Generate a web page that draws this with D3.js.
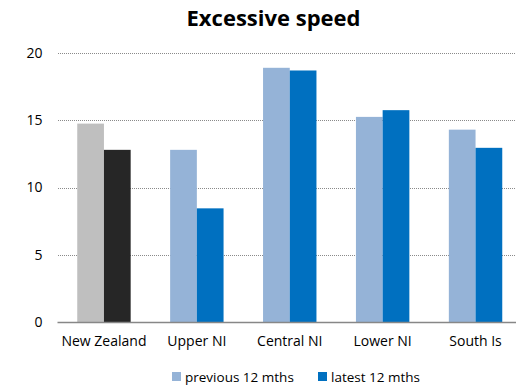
<!DOCTYPE html>
<html>
<head>
<meta charset="utf-8">
<script src="https://cdn.jsdelivr.net/npm/d3@7"></script>
<style>
  html, body { margin: 0; padding: 0; background: #fff; }
  svg { display: block; font-family: "Open Sans", "Noto Sans", sans-serif; }
</style>
</head>
<body>
<svg id="chart" width="516" height="388"></svg>
<script>
// Excessive speed offences by region
const categories = ["New Zealand", "Upper NI", "Central NI", "Lower NI", "South Is"];
const previous12 = [14.75, 12.8, 18.9, 15.25, 14.3];
const latest12 = [12.8, 8.45, 18.7, 15.75, 12.95];
const seriesNames = ["previous 12 mths", "latest 12 mths"];
const yTicks = [0, 5, 10, 15, 20];

const svg = d3.select("#chart");
const W = 516, H = 388;
const plot = { left: 57.5, right: 522, top: 53, bottom: 322 };

// colours: national total in greys, regions in blues
const prevColor = (i) => i === 0 ? "#bfbfbf" : "#95b3d7";
const lateColor = (i) => i === 0 ? "#262626" : "#0070c0";

const x = d3.scaleBand().domain(categories).range([plot.left, plot.right]).paddingInner(0.425).paddingOuter(0.2125);
const sub = d3.scaleBand().domain([0, 1]).range([0, x.bandwidth()]);
const y = d3.scaleLinear().domain([0, 20]).range([plot.bottom, plot.top]);

// title
svg.append("text")
  .attr("x", 273.5).attr("y", 26)
  .attr("text-anchor", "middle")
  .attr("font-size", 22).attr("font-weight", "bold").attr("fill", "#000")
  .text("Excessive speed");

// dotted gridlines + y labels
const yAxis = d3.axisLeft(y).tickValues(yTicks).tickSize(-(W - plot.left)).tickPadding(15);
const gy = svg.append("g").attr("transform", `translate(${plot.left},0)`).call(yAxis);
gy.select(".domain").remove();
gy.selectAll(".tick line")
  .attr("stroke", "#8a8a8a").attr("stroke-width", 1).attr("stroke-dasharray", "1,1")
  .attr("shape-rendering", "crispEdges");
gy.selectAll(".tick text").attr("font-size", 14).attr("fill", "#000")
  .attr("font-family", "'Open Sans', sans-serif");

// bars
const groups = svg.append("g").selectAll("g").data(categories).join("g")
  .attr("transform", d => `translate(${x(d)},0)`);

groups.append("rect")
  .attr("x", sub(0)).attr("width", sub.bandwidth())
  .attr("y", (d, i) => y(previous12[i]))
  .attr("height", (d, i) => y(0) - y(previous12[i]))
  .attr("fill", (d, i) => prevColor(i));

groups.append("rect")
  .attr("x", sub(1)).attr("width", sub.bandwidth())
  .attr("y", (d, i) => y(latest12[i]))
  .attr("height", (d, i) => y(0) - y(latest12[i]))
  .attr("fill", (d, i) => lateColor(i));

// category axis
const xAxis = d3.axisBottom(x).tickSize(0).tickPadding(14);
const gx = svg.append("g").attr("transform", `translate(0,${plot.bottom})`).call(xAxis);
gx.select(".domain").remove();
gx.selectAll(".tick text").attr("font-size", 14).attr("fill", "#000")
  .attr("font-family", "'Open Sans', sans-serif");
svg.append("line")
  .attr("x1", plot.left).attr("x2", W)
  .attr("y1", plot.bottom + 0.5).attr("y2", plot.bottom + 0.5)
  .attr("stroke", "#878787").attr("stroke-width", 1.6);

// legend
const legend = [
  { name: seriesNames[0], color: "#95b3d7", x: 172 },
  { name: seriesNames[1], color: "#0070c0", x: 318 }
];
const lg = svg.append("g").selectAll("g").data(legend).join("g")
  .attr("transform", d => `translate(${d.x},372)`);
lg.append("rect").attr("width", 9).attr("height", 9).attr("fill", d => d.color);
lg.append("text").attr("x", 13).attr("y", 9.5)
  .attr("font-size", 13.5).attr("fill", "#000").text(d => d.name);
</script>
</body>
</html>
